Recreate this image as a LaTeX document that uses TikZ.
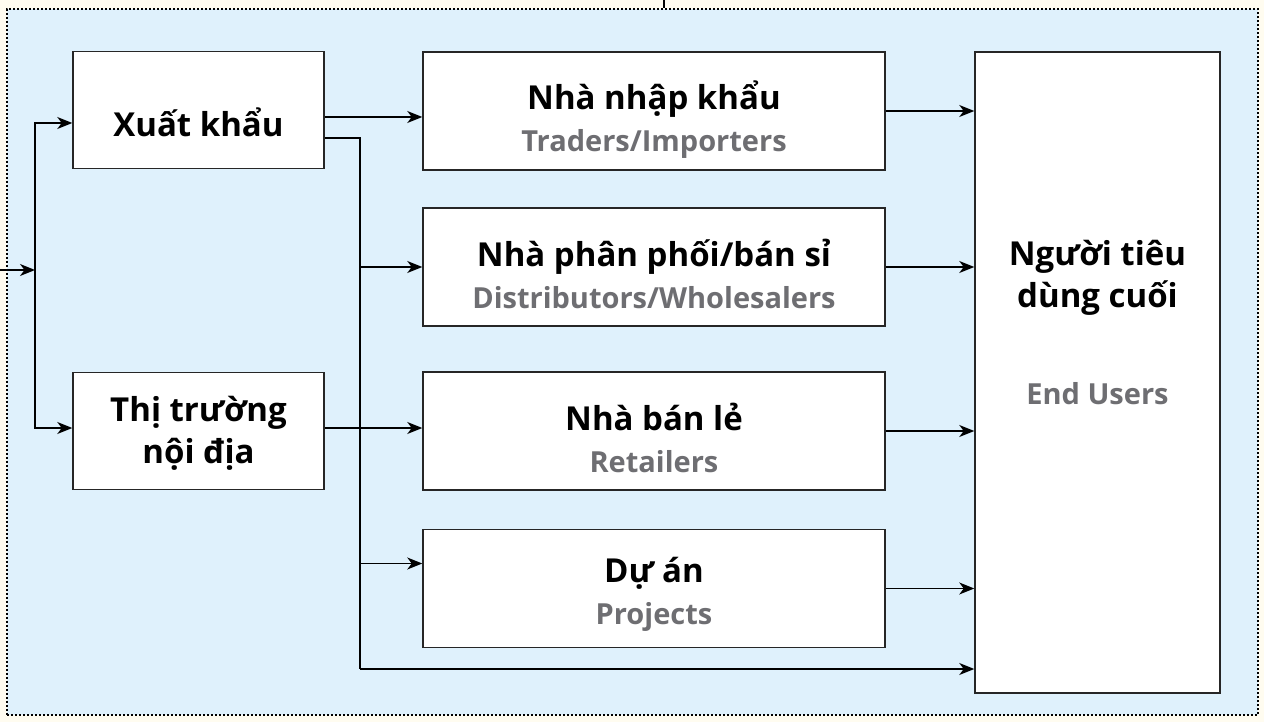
\documentclass[tikz,border=0pt]{standalone}
\usepackage{fontspec}
\setmainfont{Open Sans}
\usepackage{xcolor}
\usepackage{tikz}
\usetikzlibrary{arrows.meta}
\definecolor{paper}{HTML}{FFFCF0}
\definecolor{panel}{HTML}{DFF1FC}
\definecolor{subgrey}{HTML}{6E6E72}
\newcommand{\mainsize}{\fontsize{33}{42}\selectfont}
\newcommand{\greytext}[1]{{\fontsize{29}{42}\selectfont\color{subgrey}{#1}}}
\tikzset{
	box node/.style={rectangle,draw=black!85,fill=white,line width=1.5pt,inner sep=0pt},
	frame node/.style={rectangle,draw=black,fill=panel,line width=1.7pt,
		dash pattern=on 1.7pt off 2.3pt,inner sep=0pt,
		minimum width=1251pt,minimum height=706pt},
	label text/.style={align=center,font=\bfseries\mainsize,inner sep=0pt},
	% box text sits a little below the centre
	boxtext/.style 2 args={label={[label text,yshift=-#1pt]center:{#2}}}
}

\begin{document}
\begin{tikzpicture}[x=1pt,y=-1pt,->,>={Stealth[length=15pt,width=12pt,inset=4.5pt]},
		line width=1.5pt,
		left box/.style={box node,minimum width=251pt,minimum height=117pt},
		mid box/.style={box node,minimum width=462pt,minimum height=118pt}]
	\useasboundingbox (0,0) rectangle (1264,722);
	\fill[paper] (0,0) rectangle (1264,722);
	\node [frame node] (frame) at (632.5,362) {};

	% sources on the left
	\node [left box,boxtext={12}{Xuất khẩu}] (xk) at (198.5,110) {};
	\node [left box,boxtext={2}{Thị trường\\nội địa}] (tt) at (198.5,431) {};

	% channels in the middle
	\node [mid box,boxtext={9}{Nhà nhập khẩu\\\greytext{Traders/Importers}}] (nk) at (654,111) {};
	\node [mid box,boxtext={7}{Nhà phân phối/bán sỉ\\\greytext{Distributors/Wholesalers}}] (pp) at (654,267) {};
	\node [mid box,boxtext={7}{Nhà bán lẻ\\\greytext{Retailers}}] (bl) at (654,431) {};
	\node [mid box,boxtext={6}{Dự án\\\greytext{Projects}}] (da) at (654,588.5) {};

	% end users
	\node [box node,minimum width=245pt,minimum height=641pt] (eu) at (1097.5,372.5) {};
	\node [label text] (eutext) at (1097.5,322) {Người tiêu\\dùng cuối\\[55pt]\greytext{End Users}};

	% feed into the frame
	\coordinate (top) at (664,0);
	\draw [-] (top) -- (top |- frame.north);
	\coordinate (in) at (0,270);
	\coordinate (split) at (35,270);
	\draw (in) -- (split);
	\draw (split) |- ([yshift=-13pt]xk.west);
	\draw (split) |- ([yshift=3pt]tt.west);

	% export branches
	\coordinate (bus) at (360,669);
	\draw ([yshift=-7pt]xk.east) -- ([yshift=-7pt]xk.east -| nk.west);
	\draw [-] ([yshift=-28pt]xk.east) -| (bus);
	\draw (bus) -- (bus -| eu.west);
	\draw (bus |- pp.west) -- (pp.west);
	\draw ([yshift=25pt]da.west -| bus) -- ([yshift=25pt]da.west);

	% domestic branch
	\draw ([yshift=3pt]tt.east) -- ([yshift=3pt]tt.east -| bl.west);

	% into end users
	\draw (nk.east) -- (nk.east -| eu.west);
	\draw (pp.east) -- (pp.east -| eu.west);
	\draw (bl.east) -- (bl.east -| eu.west);
	\draw (da.east) -- (da.east -| eu.west);
\end{tikzpicture}
\end{document}
